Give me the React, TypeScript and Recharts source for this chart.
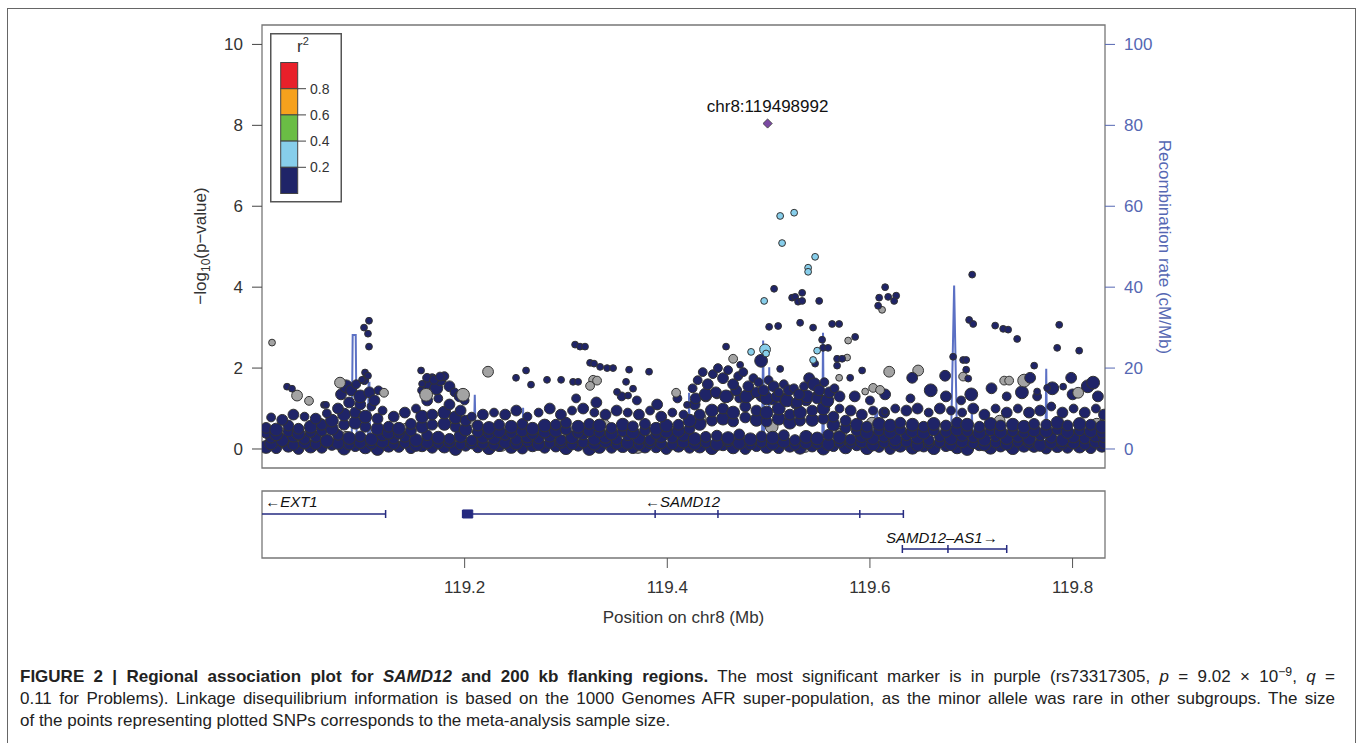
import React from "react";
import {
  ComposedChart,
  Legend,
  Line,
  ReferenceArea,
  Scatter,
  XAxis,
  YAxis,
} from "recharts";

const NAVY = "#1f2468";
const LIGHT_BLUE = "#87ceeb";
const GRAY = "#a3a3a3";
const PURPLE = "#7b4aa3";
const RECOMB = "#5b70c4";
const AXIS_BLUE = "#5567b3";
const OUTLINE = "#333";
const GENE = "#252a80";
const TEXT = "#333";

const X_DOMAIN: [number, number] = [119.0, 119.832];
const P_DOMAIN: [number, number] = [-0.47, 10.48];
const R_DOMAIN: [number, number] = [-4.7, 104.8];
const pTicks = [0, 2, 4, 6, 8, 10];
const rTicks = [0, 20, 40, 60, 80, 100];
const xTicks = [119.2, 119.4, 119.6, 119.8];

// r2 colour key, bottom to top
const ldColors = ["#1f2468", "#87ceeb", "#6abd45", "#f6a11d", "#e8202a"];
const ldBreaks = ["0.2", "0.4", "0.6", "0.8"];

// radius by sample-size class
const RADIUS = [0, 3.4, 4.4, 5.4, 6.4];

// dense low band of SNPs (positions in Mb)
const bandPosA = [
  119.004, 119.014, 119.026, 119.036, 119.048, 119.059, 119.069, 119.081, 119.092, 119.102,
  119.114, 119.125, 119.135, 119.147, 119.158, 119.168, 119.18, 119.191, 119.201, 119.213,
  119.224, 119.234, 119.246, 119.257, 119.267, 119.279, 119.29, 119.3, 119.312, 119.323,
  119.333, 119.345, 119.356, 119.366, 119.378, 119.389, 119.399, 119.411, 119.422, 119.432,
  119.444, 119.455, 119.465, 119.477, 119.488, 119.498, 119.51, 119.521, 119.531, 119.543,
  119.554, 119.564, 119.576, 119.587, 119.597, 119.609, 119.62, 119.63, 119.642, 119.653,
  119.663, 119.675, 119.686, 119.696, 119.708, 119.719, 119.729, 119.741, 119.752, 119.762,
  119.774, 119.785, 119.795, 119.807, 119.818, 119.829,
];
const bandPosB = [
  119.009, 119.02, 119.031, 119.042, 119.053, 119.064, 119.075, 119.086, 119.097, 119.108,
  119.119, 119.13, 119.141, 119.152, 119.163, 119.174, 119.185, 119.196, 119.207, 119.218,
  119.229, 119.24, 119.251, 119.262, 119.273, 119.284, 119.295, 119.306, 119.317, 119.328,
  119.339, 119.35, 119.361, 119.372, 119.383, 119.394, 119.405, 119.416, 119.427, 119.438,
  119.449, 119.46, 119.471, 119.482, 119.493, 119.504, 119.515, 119.526, 119.537, 119.548,
  119.559, 119.57, 119.581, 119.592, 119.603, 119.614, 119.625, 119.636, 119.647, 119.658,
  119.669, 119.68, 119.691, 119.702, 119.713, 119.724, 119.735, 119.746, 119.757, 119.768,
  119.779, 119.79, 119.801, 119.812, 119.823, 119.831,
];
const bandRow0 = [
  0.05, 0.02, 0.08, 0.0, 0.06, 0.03, 0.1, 0.01, 0.07, 0.04,
  0.0, 0.08, 0.05, 0.02, 0.09, 0.03, 0.06, 0.0, 0.08, 0.04,
  0.02, 0.07, 0.05, 0.01, 0.09, 0.03, 0.06, 0.02, 0.08, 0.0,
  0.05, 0.03, 0.07, 0.02, 0.06, 0.04, 0.0, 0.08, 0.03, 0.06,
  0.02, 0.09, 0.04, 0.0, 0.07, 0.05, 0.02, 0.08, 0.03, 0.06,
  0.01, 0.07, 0.04, 0.09, 0.02, 0.05, 0.0, 0.08, 0.03, 0.06,
  0.02, 0.07, 0.04, 0.0, 0.09, 0.03, 0.06, 0.02, 0.08, 0.05,
  0.01, 0.07, 0.03, 0.06, 0.02, 0.08,
];
const bandRow4 = [
  0.14, 0.18, 0.1, 0.16, 0.12, 0.19, 0.15, 0.11, 0.17, 0.13,
  0.18, 0.12, 0.15, 0.1, 0.17, 0.14, 0.19, 0.11, 0.16, 0.13,
  0.1, 0.17, 0.14, 0.19, 0.12, 0.15, 0.18, 0.11, 0.16, 0.13,
  0.19, 0.12, 0.15, 0.1, 0.17, 0.14, 0.11, 0.18, 0.13, 0.16,
  0.12, 0.19, 0.15, 0.11, 0.17, 0.13, 0.18, 0.1, 0.16, 0.14,
  0.12, 0.17, 0.15, 0.19, 0.11, 0.16, 0.13, 0.18, 0.1, 0.15,
  0.17, 0.12, 0.19, 0.14, 0.11, 0.16, 0.13, 0.18, 0.15, 0.1,
  0.17, 0.13, 0.16, 0.11, 0.18, 0.14,
];
const bandRow1 = [
  0.28, 0.22, 0.33, 0.25, 0.3, 0.2, 0.35, 0.27, 0.31, 0.24,
  0.36, 0.26, 0.3, 0.22, 0.34, 0.28, 0.25, 0.32, 0.21, 0.3,
  0.27, 0.35, 0.23, 0.31, 0.26, 0.33, 0.22, 0.29, 0.36, 0.25,
  0.3, 0.24, 0.34, 0.27, 0.22, 0.32, 0.28, 0.35, 0.25, 0.3,
  0.33, 0.27, 0.36, 0.24, 0.31, 0.28, 0.34, 0.22, 0.3, 0.26,
  0.35, 0.29, 0.23, 0.32, 0.27, 0.3, 0.24, 0.34, 0.28, 0.22,
  0.31, 0.26, 0.35, 0.29, 0.23, 0.32, 0.27, 0.3, 0.25, 0.34,
  0.28, 0.22, 0.31, 0.26, 0.33, 0.29,
];
const bandRow5 = [
  0.4, 0.36, 0.44, 0.38, 0.42, 0.45, 0.5, 0.6, 0.65, 0.55,
  0.5, 0.4, 0.38, 0.45, 0.55, 0.6, 0.62, 0.55, 0.48, 0.42,
  0.38, 0.44, 0.4, 0.46, 0.37, 0.43, 0.45, 0.48, 0.4, 0.46,
  0.42, 0.38, 0.44, 0.41, 0.46, 0.37, 0.43, 0.45, 0.5, 0.62,
  0.7, 0.75, 0.68, 0.78, 0.72, 0.68, 0.75, 0.65, 0.7, 0.72,
  0.75, 0.6, 0.52, 0.45, 0.4, 0.46, 0.42, 0.48, 0.44, 0.4,
  0.46, 0.42, 0.48, 0.44, 0.4, 0.46, 0.42, 0.44, 0.4, 0.46,
  0.44, 0.48, 0.42, 0.46, 0.44, 0.4,
];
const bandRow2 = [
  0.52, 0.48, 0.58, 0.5, 0.55, 0.6, 0.7, 0.85, 0.9, 0.8,
  0.75, 0.55, 0.5, 0.62, 0.8, 0.85, 0.9, 0.78, 0.7, 0.58,
  0.52, 0.6, 0.55, 0.62, 0.5, 0.58, 0.6, 0.65, 0.55, 0.62,
  0.58, 0.52, 0.6, 0.56, 0.62, 0.5, 0.58, 0.6, 0.7, 0.85,
  0.95, 1.0, 0.9, 1.05, 0.95, 0.9, 1.0, 0.85, 0.9, 0.95,
  1.0, 0.8, 0.7, 0.6, 0.55, 0.62, 0.58, 0.65, 0.6, 0.55,
  0.62, 0.58, 0.65, 0.6, 0.55, 0.62, 0.58, 0.6, 0.55, 0.62,
  0.6, 0.65, 0.58, 0.62, 0.6, 0.55,
];
const bandRow3 = [
  0.78, 0.72, 0.85, 0.8, 0.75, 0.88, 1.0, 1.15, 1.1, 1.05,
  0.95, 0.8, 0.9, 1.0, 1.2, 1.25, 1.1, 0.95, 0.8, 0.85,
  0.9, 0.85, 0.95, 0.8, 0.9, 1.0, 0.85, 0.95, 1.0, 0.9,
  0.85, 0.95, 0.9, 0.85, 0.95, 0.8, 0.9, 0.85, 1.1, 1.3,
  1.35, 1.3, 1.25, 1.35, 1.3, 1.2, 1.25, 1.1, 1.2, 1.3,
  1.15, 1.0, 0.95, 0.85, 0.95, 0.9, 1.0, 0.95, 1.0, 0.9,
  1.0, 0.95, 0.9, 1.0, 0.85, 1.0, 0.9, 1.0, 0.9, 0.95,
  1.05, 0.9, 1.0, 0.9, 1.0, 0.85,
];
const bandSize0 = "4343433434443343443343434334344343433434434334344343434334434344343443343434";
const bandSize4 = "4334344343433443434334434343344343433443434334434343344343433443434334434343";
const bandSize1 = "3443343434433434343443343434344334343443343434334434344343433443434343344343";
const bandSize5 = "3434334343443343434334343443343434334434343343443434334343443343434334434343";
const bandSize2 = "3433434434334343443343434433434343344343434334434343343443434334343443343434";
const bandSize3 = "2332323332233232332323322332323323232233232332323322332323323223323233232323";

// [position, -log10 p, size class]
const bandExtra = [
  [119.078, 1.35, 3], [119.083, 1.55, 4], [119.088, 1.45, 3], [119.093, 1.6, 2], [119.097, 1.3, 4],
  [119.101, 1.7, 2], [119.106, 1.4, 3], [119.111, 1.2, 3], [119.115, 1.45, 2],
  [119.158, 1.45, 2], [119.163, 1.6, 3], [119.168, 1.75, 2], [119.172, 1.5, 4], [119.176, 1.7, 3],
  [119.18, 1.8, 2], [119.185, 1.55, 3], [119.19, 1.4, 2], [119.195, 1.3, 3], [119.2, 1.2, 2],
  [119.31, 1.25, 2], [119.33, 1.15, 3], [119.355, 1.3, 2], [119.37, 1.2, 2], [119.39, 1.1, 3], [119.41, 1.25, 2],
  [119.428, 1.25, 3], [119.438, 1.35, 4], [119.448, 1.4, 3], [119.458, 1.3, 4], [119.468, 1.45, 3],
  [119.478, 1.3, 4], [119.488, 1.4, 3], [119.498, 1.25, 4], [119.508, 1.3, 3], [119.518, 1.2, 4],
  [119.528, 1.15, 3], [119.538, 1.3, 4], [119.548, 1.25, 3], [119.558, 1.2, 4],
  [119.425, 1.5, 2], [119.43, 1.7, 2], [119.435, 1.9, 2], [119.44, 1.6, 3], [119.445, 1.85, 2],
  [119.45, 2.0, 2], [119.455, 1.75, 3], [119.46, 1.95, 2], [119.465, 1.6, 3], [119.47, 1.8, 2],
  [119.475, 1.9, 2], [119.48, 1.55, 3], [119.485, 1.75, 2], [119.49, 1.65, 2], [119.495, 1.45, 3],
  [119.5, 1.7, 2], [119.505, 1.55, 3], [119.51, 1.4, 2], [119.515, 1.6, 2], [119.52, 1.45, 3],
  [119.525, 1.5, 2], [119.53, 1.35, 3], [119.535, 1.55, 2], [119.54, 1.75, 3], [119.545, 1.6, 4],
  [119.55, 1.45, 3], [119.555, 1.65, 2], [119.56, 1.4, 3], [119.565, 1.5, 2], [119.57, 1.3, 3],
  [119.585, 1.3, 3], [119.6, 1.2, 2], [119.615, 1.35, 3], [119.64, 1.25, 2], [119.66, 1.45, 4],
  [119.675, 1.3, 3], [119.69, 1.2, 2], [119.7, 1.35, 4], [119.72, 1.5, 3], [119.735, 1.3, 2],
  [119.75, 1.4, 4], [119.765, 1.3, 2], [119.78, 1.5, 4], [119.8, 1.35, 3], [119.815, 1.55, 4], [119.825, 1.3, 3],
];

const bandGray = [
  [119.012, 0.45, 3], [119.031, 0.15, 4], [119.058, 0.62, 3], [119.083, 0.3, 3], [119.113, 0.05, 4],
  [119.142, 0.5, 3], [119.176, 0.2, 4], [119.205, 0.7, 3], [119.236, 0.1, 4], [119.271, 0.45, 3],
  [119.304, 0.25, 4], [119.338, 0.6, 3], [119.371, 0.05, 4], [119.395, 0.4, 3], [119.432, 0.75, 4],
  [119.467, 0.2, 3], [119.503, 0.55, 4], [119.536, 0.05, 3], [119.571, 0.35, 4], [119.602, 0.65, 3],
  [119.634, 0.15, 4], [119.667, 0.5, 3], [119.699, 0.25, 4], [119.728, 0.7, 3], [119.761, 0.1, 4],
  [119.792, 0.45, 3], [119.824, 0.6, 4],
];

const upperGray = [
  [119.0099, 2.63, 1], [119.077, 1.64, 3], [119.0346, 1.32, 3], [119.0464, 1.19, 2], [119.1204, 1.39, 2],
  [119.2231, 1.91, 3], [119.1984, 1.34, 4], [119.4087, 1.39, 2], [119.3268, 1.71, 2], [119.3307, 1.69, 2],
  [119.3238, 1.56, 2], [119.465, 2.23, 2], [119.612, 3.44, 1], [119.5785, 2.68, 1], [119.5775, 2.26, 1],
  [119.5696, 1.76, 1], [119.619, 1.91, 3], [119.6476, 1.94, 3], [119.692, 1.79, 2], [119.7522, 1.69, 4],
  [119.7325, 1.69, 2], [119.7374, 1.69, 2], [119.6032, 1.51, 2], [119.61, 1.46, 2], [119.5953, 1.42, 1],
  [119.8055, 1.39, 3], [119.162, 1.34, 4],
];

const upperNavy = [
  [119.1056, 3.17, 1], [119.1007, 3.0, 1], [119.1046, 2.85, 1], [119.1056, 2.53, 1], [119.1017, 1.89, 1],
  [119.1046, 1.81, 1], [119.0987, 1.71, 1], [119.0247, 1.54, 1], [119.0296, 1.49, 1], [119.0612, 1.09, 1],
  [119.0632, 1.09, 1], [119.157, 1.94, 1], [119.2606, 1.94, 1], [119.2507, 1.76, 1], [119.2655, 1.59, 1],
  [119.2813, 1.71, 1], [119.2952, 1.71, 1], [119.309, 2.58, 1], [119.3139, 2.53, 1], [119.3188, 2.53, 1],
  [119.3238, 2.13, 1], [119.3277, 2.11, 1], [119.3337, 2.03, 1], [119.3406, 2.0, 1], [119.3465, 2.0, 1],
  [119.3623, 1.96, 1], [119.382, 1.91, 1], [119.3593, 1.66, 1], [119.3662, 1.49, 1], [119.3613, 1.32, 1],
  [119.3504, 1.41, 1], [119.307, 1.66, 1], [119.312, 1.66, 1], [119.4195, 1.09, 1], [119.1629, 1.76, 2],
  [119.1698, 1.71, 2], [119.1757, 1.79, 2], [119.158, 1.61, 1],
  [119.5054, 3.96, 1], [119.5232, 3.74, 1], [119.5262, 3.76, 1], [119.5291, 3.64, 1], [119.5331, 3.86, 1],
  [119.5331, 3.66, 1], [119.5499, 3.66, 1], [119.5311, 3.12, 1], [119.5005, 3.02, 1], [119.5094, 3.04, 1],
  [119.5439, 3.0, 1], [119.5627, 3.09, 1], [119.5696, 3.09, 1], [119.615, 4.0, 1], [119.6091, 3.74, 1],
  [119.618, 3.76, 1], [119.6259, 3.79, 1], [119.6239, 3.66, 1], [119.6081, 3.54, 1], [119.6979, 3.19, 1],
  [119.7019, 3.09, 1], [119.7236, 3.05, 1], [119.7315, 2.97, 1], [119.7364, 2.95, 1], [119.7453, 2.72, 1],
  [119.7868, 3.07, 1], [119.7848, 2.5, 1], [119.8065, 2.43, 1], [119.7009, 4.31, 1], [119.458, 2.53, 1],
  [119.4926, 2.18, 4], [119.4719, 2.08, 1], [119.5528, 2.7, 1], [119.5538, 2.5, 1], [119.5587, 2.5, 1],
  [119.5459, 2.11, 1], [119.5676, 2.23, 1], [119.5726, 2.23, 1], [119.5854, 2.77, 1], [119.5676, 2.06, 1],
  [119.5923, 1.94, 1], [119.6417, 1.76, 3], [119.6821, 2.28, 1], [119.692, 2.2, 1], [119.695, 2.2, 1],
  [119.695, 1.96, 1], [119.697, 1.74, 1], [119.6742, 1.81, 3], [119.7621, 2.06, 1], [119.7581, 1.76, 3],
  [119.7986, 1.76, 3], [119.8203, 1.64, 4], [119.765, 1.42, 1], [119.7749, 1.51, 1], [119.7907, 1.54, 1],
  [119.5114, 1.98, 1], [119.5805, 1.76, 1], [119.615, 0.92, 1],
];

const lightBlue = [
  [119.5114, 5.76, 1], [119.5252, 5.84, 1], [119.5133, 5.09, 1], [119.5459, 4.75, 1], [119.539, 4.48, 1],
  [119.539, 4.38, 1], [119.4956, 3.66, 1], [119.4827, 2.4, 1], [119.4965, 2.46, 3], [119.4975, 2.36, 1],
  [119.5479, 2.43, 1], [119.5439, 2.2, 1],
];

const leadSnp = [{ x: 119.499, v: 8.045, name: "chr8:119498992" }];

// recombination rate, [position, cM/Mb]
const recombRate = [
  [119.0, 1.2], [119.02, 0.8], [119.05, 1.5], [119.0885, 1.0], [119.0895, 28.2], [119.0925, 28.2],
  [119.0935, 1.5], [119.1045, 2], [119.1052, 16.4], [119.106, 16.4], [119.1068, 1.5], [119.15, 0.8],
  [119.209, 1], [119.21, 13.4], [119.211, 1], [119.257, 1], [119.2577, 10.2], [119.2585, 1],
  [119.3, 0.6], [119.37, 1.2], [119.421, 1.5], [119.4215, 13.9], [119.4222, 1.5], [119.46, 2.5],
  [119.4935, 3], [119.4946, 26.8], [119.4955, 3], [119.5, 3], [119.5006, 20.2], [119.5012, 2],
  [119.553, 2], [119.5537, 28.7], [119.5545, 2], [119.6, 1], [119.6068, 10.2], [119.6078, 1],
  [119.65, 1.5], [119.68, 2], [119.6831, 40.4], [119.686, 2], [119.7, 1.5], [119.7006, 9.3],
  [119.7016, 1.2], [119.74, 1], [119.7733, 1.5], [119.774, 19.8], [119.7748, 1.5], [119.81, 1],
  [119.832, 1.2],
];

// gene track
const geneNames = ["EXT1", "SAMD12", "SAMD12\u2013AS1"];
const geneStrand = ["-", "-", "+"];
const geneStart = [119.0, 119.198, 119.632];
const geneEnd = [119.122, 119.633, 119.735];
const geneRow = [0.657, 0.657, 0.134];
const geneLabelX = [119.029, 119.415, 119.671];
const geneExons = [
  [119.122],
  [119.198, 119.388, 119.45, 119.59, 119.633],
  [119.632, 119.677, 119.735],
];
const geneCoding = [[119.198, 119.208]];
const codingRow = [0.657];

const tuples = (t: number[][]) => t.map(([x, v, s]) => ({ x, v, s }));
const bandRow = (pos: number[], vals: number[], sizes: string) =>
  vals.map((v, i) => ({ x: pos[i], v, s: Number(sizes[i] ?? "3") }));

const dot = (fill: string) => (p: any) => (
  <circle
    cx={p.cx}
    cy={p.cy}
    r={RADIUS[p.payload.s] ?? 3.4}
    fill={fill}
    stroke={OUTLINE}
    strokeWidth={1}
  />
);

const leadShape = (p: any) => {
  const d = 4.6;
  return (
    <g>
      <text x={p.cx} y={p.cy - 12} textAnchor="middle" fontSize={17} fill="#111">
        {p.payload.name}
      </text>
      <path
        d={`M${p.cx},${p.cy - d} L${p.cx + d},${p.cy} L${p.cx},${p.cy + d} L${p.cx - d},${p.cy} Z`}
        fill={PURPLE}
        stroke={OUTLINE}
        strokeWidth={0.8}
      />
    </g>
  );
};

function LdKey() {
  const top = 29.5;
  const h = 26.2;
  return (
    <svg width={72} height={170} style={{ display: "block" }}>
      <rect x={0.75} y={0.75} width={70.5} height={168} fill="#fff" stroke="#555" strokeWidth={1.5} />
      <text x={33} y={19} fontSize={17} fill={TEXT} textAnchor="middle">
        r<tspan dy={-7} fontSize={11}>2</tspan>
      </text>
      {[...ldColors].reverse().map((c, i) => (
        <rect key={c} x={10.7} y={top + i * h} width={17} height={h} fill={c} stroke="#444" strokeWidth={1} />
      ))}
      {[...ldBreaks].reverse().map((b, i) => (
        <g key={b}>
          <line x1={27.7} x2={36} y1={top + (i + 1) * h} y2={top + (i + 1) * h} stroke="#444" strokeWidth={1} />
          <text x={40} y={top + (i + 1) * h + 5} fontSize={14} fill={TEXT}>
            {b}
          </text>
        </g>
      ))}
    </svg>
  );
}

const pTitle = () => (
  <text transform="translate(206,246) rotate(-90)" textAnchor="middle" fontSize={17} fill={TEXT}>
    {"\u2212log"}
    <tspan dy={4} fontSize={12}>10</tspan>
    <tspan dy={-4}>{"(p\u2212value)"}</tspan>
  </text>
);

const rTitle = () => (
  <text transform="translate(1159,247) rotate(90)" textAnchor="middle" fontSize={17} fill={AXIS_BLUE}>
    Recombination rate (cM/Mb)
  </text>
);

const xTitle = () => (
  <text x={683.5} y={143} textAnchor="middle" fontSize={17} fill={TEXT}>
    Position on chr8 (Mb)
  </text>
);

function AssocPlot() {
  return (
    <ComposedChart width={1362} height={480} margin={{ top: 25, right: 0, bottom: 12, left: 0 }}>
      <XAxis dataKey="x" type="number" domain={X_DOMAIN} allowDataOverflow hide />
      <YAxis
        yAxisId="p"
        dataKey="v"
        type="number"
        domain={P_DOMAIN}
        allowDataOverflow
        ticks={pTicks}
        interval={0}
        width={262}
        tickSize={10}
        tickMargin={9}
        axisLine={false}
        tickLine={{ stroke: "#444" }}
        tick={{ fill: TEXT, fontSize: 17 }}
        label={{ content: pTitle }}
      />
      <YAxis
        yAxisId="r"
        orientation="right"
        type="number"
        domain={R_DOMAIN}
        allowDataOverflow
        ticks={rTicks}
        interval={0}
        width={257}
        tickSize={10}
        tickMargin={9}
        axisLine={false}
        tickLine={{ stroke: AXIS_BLUE }}
        tick={{ fill: AXIS_BLUE, fontSize: 17 }}
        label={{ content: rTitle }}
      />
      <Line
        yAxisId="r"
        data={recombRate.map(([x, rate]) => ({ x, rate }))}
        dataKey="rate"
        type="linear"
        stroke={RECOMB}
        strokeWidth={2}
        dot={false}
        isAnimationActive={false}
      />
      <Scatter yAxisId="p" data={tuples(bandGray)} shape={dot(GRAY)} isAnimationActive={false} />
      <Scatter yAxisId="p" data={bandRow(bandPosA, bandRow0, bandSize0)} shape={dot(NAVY)} isAnimationActive={false} />
      <Scatter yAxisId="p" data={bandRow(bandPosB, bandRow4, bandSize4)} shape={dot(NAVY)} isAnimationActive={false} />
      <Scatter yAxisId="p" data={bandRow(bandPosB, bandRow1, bandSize1)} shape={dot(NAVY)} isAnimationActive={false} />
      <Scatter yAxisId="p" data={bandRow(bandPosA, bandRow5, bandSize5)} shape={dot(NAVY)} isAnimationActive={false} />
      <Scatter yAxisId="p" data={bandRow(bandPosA, bandRow2, bandSize2)} shape={dot(NAVY)} isAnimationActive={false} />
      <Scatter yAxisId="p" data={bandRow(bandPosB, bandRow3, bandSize3)} shape={dot(NAVY)} isAnimationActive={false} />
      <Scatter yAxisId="p" data={tuples(bandExtra)} shape={dot(NAVY)} isAnimationActive={false} />
      <Scatter yAxisId="p" data={tuples(upperGray)} shape={dot(GRAY)} isAnimationActive={false} />
      <Scatter yAxisId="p" data={tuples(upperNavy)} shape={dot(NAVY)} isAnimationActive={false} />
      <Scatter yAxisId="p" data={tuples(lightBlue)} shape={dot(LIGHT_BLUE)} isAnimationActive={false} />
      <Scatter yAxisId="p" data={leadSnp} shape={leadShape} isAnimationActive={false} />
      <ReferenceArea
        yAxisId="p"
        x1={X_DOMAIN[0]}
        x2={X_DOMAIN[1]}
        y1={P_DOMAIN[0]}
        y2={P_DOMAIN[1]}
        fill="none"
        stroke="#777"
        strokeWidth={1.3}
      />
      <Legend
        layout="horizontal"
        verticalAlign="middle"
        align="center"
        content={() => <LdKey />}
        wrapperStyle={{ left: 270, top: 33, width: 72, height: 170 }}
      />
    </ComposedChart>
  );
}

function GeneTrack() {
  const exonPts = geneExons.flatMap((xs, i) => xs.map((x) => ({ x, g: geneRow[i] })));
  const labels = geneNames.map((name, i) => ({
    x: geneLabelX[i],
    g: geneRow[i],
    text: geneStrand[i] === "-" ? `\u2190${name}` : `${name}\u2192`,
  }));
  return (
    <ComposedChart width={1362} height={152} margin={{ top: 11, right: 257, bottom: 0, left: 262 }}>
      <XAxis
        dataKey="x"
        type="number"
        domain={X_DOMAIN}
        allowDataOverflow
        ticks={xTicks}
        interval={0}
        tickFormatter={(t: number) => t.toFixed(1)}
        tickSize={10}
        tickMargin={13}
        axisLine={false}
        tickLine={{ stroke: "#555" }}
        tick={{ fill: TEXT, fontSize: 17 }}
        height={74}
        label={{ content: xTitle }}
      />
      <YAxis dataKey="g" type="number" domain={[0, 1]} hide />
      {geneNames.map((name, i) => (
        <Line
          key={name}
          data={[
            { x: geneStart[i], g: geneRow[i] },
            { x: geneEnd[i], g: geneRow[i] },
          ]}
          dataKey="g"
          stroke={GENE}
          strokeWidth={1.6}
          dot={false}
          isAnimationActive={false}
        />
      ))}
      {geneCoding.map(([a, b], i) => (
        <ReferenceArea
          key={a}
          x1={a}
          x2={b}
          y1={codingRow[i] - 0.06}
          y2={codingRow[i] + 0.06}
          fill={GENE}
          fillOpacity={1}
          stroke={GENE}
        />
      ))}
      <Scatter
        data={exonPts}
        isAnimationActive={false}
        shape={(p: any) => (
          <line x1={p.cx} x2={p.cx} y1={p.cy - 4} y2={p.cy + 4} stroke={GENE} strokeWidth={1.5} />
        )}
      />
      <Scatter
        data={labels}
        isAnimationActive={false}
        shape={(p: any) => (
          <text x={p.cx} y={p.cy - 6.5} textAnchor="middle" fontSize={15} fontStyle="italic" fill="#111">
            {p.payload.text}
          </text>
        )}
      />
      <ReferenceArea x1={X_DOMAIN[0]} x2={X_DOMAIN[1]} y1={0} y2={1} fill="none" stroke="#777" strokeWidth={1.3} />
    </ComposedChart>
  );
}

const lineStyle: React.CSSProperties = {
  whiteSpace: "nowrap",
  textAlign: "justify",
  textAlignLast: "justify",
  height: 22,
};

export default function App() {
  return (
    <div
      style={{
        position: "absolute",
        left: 0,
        top: 0,
        width: 1362,
        height: 743,
        overflow: "hidden",
        background: "#fff",
        fontFamily: "'Liberation Sans', Arial, sans-serif",
      }}
    >
      <div
        style={{
          position: "absolute",
          left: 7,
          top: 8,
          width: 1349,
          height: 800,
          boxSizing: "border-box",
          border: "1.5px solid #666",
        }}
      />
      <div style={{ position: "absolute", left: 0, top: 0 }}>
        <AssocPlot />
      </div>
      <div style={{ position: "absolute", left: 0, top: 480 }}>
        <GeneTrack />
      </div>
      <div
        style={{
          position: "absolute",
          left: 20,
          top: 666,
          width: 1315,
          fontSize: 17,
          lineHeight: "22px",
          color: "#222",
        }}
      >
        <div style={lineStyle}>
          <b>
            FIGURE 2 | Regional association plot for <i>SAMD12</i> and 200 kb flanking regions.
          </b>{" "}
          The most significant marker is in purple (rs73317305, <i>p</i> = 9.02 × 10
          <span style={{ fontSize: "0.72em", position: "relative", top: "-0.5em" }}>{"\u22129"}</span>,{" "}
          <i>q</i> =
        </div>
        <div style={lineStyle}>
          0.11 for Problems). Linkage disequilibrium information is based on the 1000 Genomes AFR
          super-population, as the minor allele was rare in other subgroups. The size
        </div>
        <div style={{ whiteSpace: "nowrap" }}>
          of the points representing plotted SNPs corresponds to the meta-analysis sample size.
        </div>
      </div>
    </div>
  );
}
